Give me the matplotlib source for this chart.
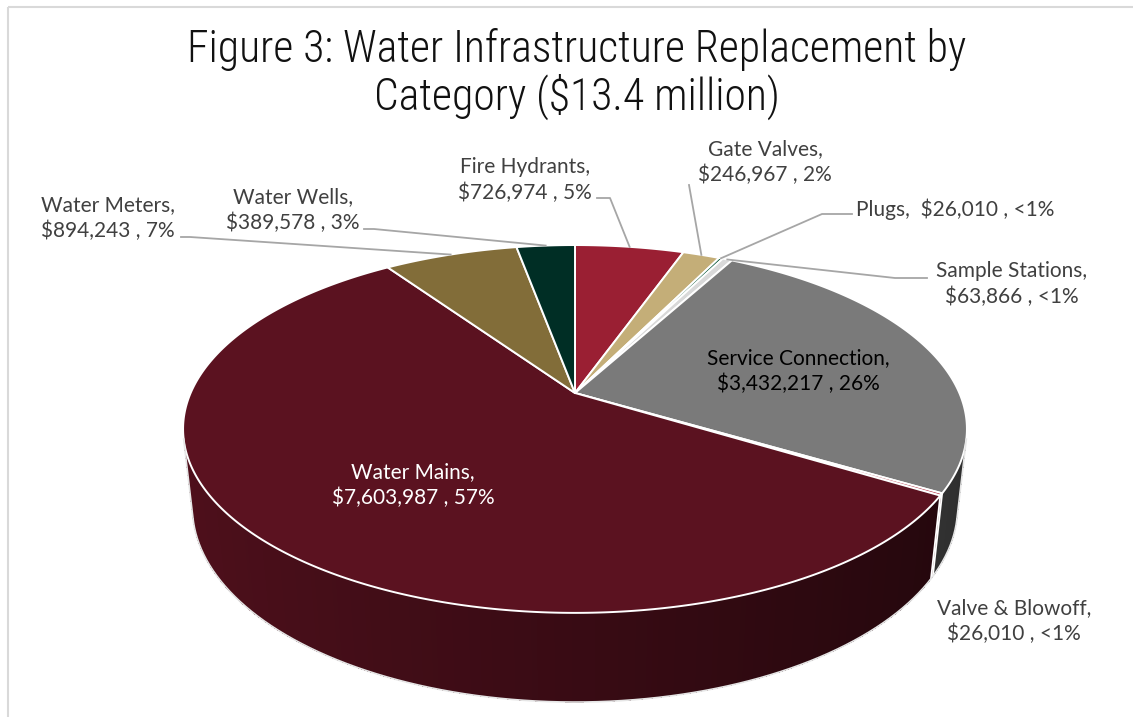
import numpy as np
import matplotlib
matplotlib.use("Agg")
import matplotlib.pyplot as plt
from matplotlib.patches import Polygon, Rectangle
from matplotlib import font_manager

# data (clockwise from 12 o'clock, Excel order)
categories = ["Fire Hydrants", "Gate Valves", "Plugs", "Sample Stations",
              "Service Connection", "Valve & Blowoff", "Water Mains",
              "Water Meters", "Water Wells"]
values = [726974, 246967, 26010, 63866, 3432217, 26010, 7603987, 894243, 389578]
colors = ["#9A1F33", "#C4AE78", "#0E5C3F", "#D9D9D9", "#7A7A7A",
          "#B0283C", "#5B1220", "#826D39", "#002E25"]

# label layout: (x, y, ha) in pixels, and leader line path start
label_pos = {
    "Fire Hydrants": (525, 180, "center"),
    "Gate Valves": (765, 162, "center"),
    "Plugs": (856, 209, "left"),
    "Sample Stations": (1012, 284, "center"),
    "Service Connection": (798, 371, "center"),
    "Valve & Blowoff": (1014, 621, "center"),
    "Water Mains": (413, 485, "center"),
    "Water Meters": (108, 218, "center"),
    "Water Wells": (293, 210, "center"),
}
leaders = {
    "Fire Hydrants": [(597, 198), (610, 198)],
    "Gate Valves": [(689, 185)],
    "Plugs": [(852, 214), (822, 214)],
    "Sample Stations": [(927, 278), (895, 278)],
    "Water Meters": [(181, 237), (190, 237)],
    "Water Wells": [(364, 229), (374, 229)],
}

W, H = 1133, 717
cx, cy = 575, 393
beta = np.radians(27.4)
dist = 4.54
focal = 1745.0
depth_h = 0.2315


def project(x, y, z):
    d = dist + y * np.cos(beta) - z * np.sin(beta)
    sx = focal * x / d
    sy = focal * (y * np.sin(beta) + z * np.cos(beta)) / d
    return cx + sx, cy - sy


def rim(theta, z=0.0):
    return project(np.sin(theta), np.cos(theta), z)


def shade(color, f):
    rgb = np.array(matplotlib.colors.to_rgb(color))
    return tuple(np.clip(rgb * f, 0, 1))


# pick a narrow font for the title if one is around
names = {f.name for f in font_manager.fontManager.ttflist}
title_family = [n for n in ["Liberation Sans Narrow", "Roboto Condensed",
                            "DejaVu Sans Condensed"] if n in names]
title_family += ["DejaVu Sans"]

fig = plt.figure(figsize=(W / 100, H / 100), dpi=100)
ax = fig.add_axes([0, 0, 1, 1])
ax.set_xlim(0, W)
ax.set_ylim(H, 0)
ax.axis("off")

# chart frame
ax.add_patch(Rectangle((8, 7), W + 10, H + 10, fill=False, ec="#D9D9D9", lw=1.5))

total = float(sum(values))
fracs = np.array(values) / total
ends = np.cumsum(fracs) * 2 * np.pi
starts = ends - fracs * 2 * np.pi

# visible part of the side wall
vis_lim = np.arccos(-1.0 / (dist * np.cos(beta)))
vis_a, vis_b = vis_lim, 2 * np.pi - vis_lim

# side walls
for s, e, col in zip(starts, ends, colors):
    a, b = max(s, vis_a), min(e, vis_b)
    if a >= b:
        continue
    n = max(2, int(np.degrees(b - a) / 0.7))
    th = np.linspace(a, b, n + 1)
    for t0, t1 in zip(th[:-1], th[1:]):
        tm = 0.5 * (t0 + t1)
        f = 0.62 - 0.25 * np.sin(tm)
        c = shade(col, f)
        pts = [rim(t0), rim(t1), rim(t1, -depth_h), rim(t0, -depth_h)]
        ax.add_patch(Polygon(pts, closed=True, fc=c, ec="none", lw=0,
                             antialiased=False))

# wall separators and outline
for b in ends:
    if vis_a < b < vis_b:
        x0, y0 = rim(b)
        x1, y1 = rim(b, -depth_h)
        ax.plot([x0, x1], [y0, y1], color="white", lw=1.3)
th = np.linspace(vis_a, vis_b, 300)
bx, by = zip(*[rim(t, -depth_h) for t in th])
ax.plot(bx, by, color="#E6E6E6", lw=1.2)
for t in (vis_a, vis_b):
    x0, y0 = rim(t)
    x1, y1 = rim(t, -depth_h)
    ax.plot([x0, x1], [y0, y1], color="#E6E6E6", lw=1.2)

# top faces
for s, e, col in zip(starts, ends, colors):
    n = max(2, int(np.degrees(e - s) / 0.5))
    th = np.linspace(s, e, n + 1)
    pts = [(cx, cy)] + [rim(t) for t in th]
    ax.add_patch(Polygon(pts, closed=True, fc=col, ec="white", lw=1.4,
                         joinstyle="round"))

# labels
label_font = ["Lato", "DejaVu Sans"]
for name, v, s, e in zip(categories, values, starts, ends):
    pct = v / total * 100
    ptxt = "<1%" if pct < 1 else f"{pct:.0f}%"
    if name == "Plugs":
        txt = f"{name},  ${v:,} , {ptxt}"
    else:
        txt = f"{name},\n${v:,} , {ptxt}"
    x, y, ha = label_pos[name]
    color = "#404040"
    if name == "Water Mains":
        color = "white"
    elif name == "Service Connection":
        color = "black"
    ax.text(x, y, txt, ha=ha, va="center", fontsize=15, color=color,
            family=label_font, linespacing=1.32, multialignment="center")
    if name in leaders:
        mid = 0.5 * (s + e)
        path = leaders[name] + [rim(mid)]
        lx, ly = zip(*path)
        ax.plot(lx, ly, color="#A6A6A6", lw=1.3)

ax.text(577, 74, "Figure 3: Water Infrastructure Replacement by\nCategory ($13.4 million)",
        ha="center", va="center", fontsize=31.5, color="#111111",
        family=title_family, fontstretch="condensed", weight="light",
        linespacing=1.08)

fig.savefig("out.png", dpi=100)
